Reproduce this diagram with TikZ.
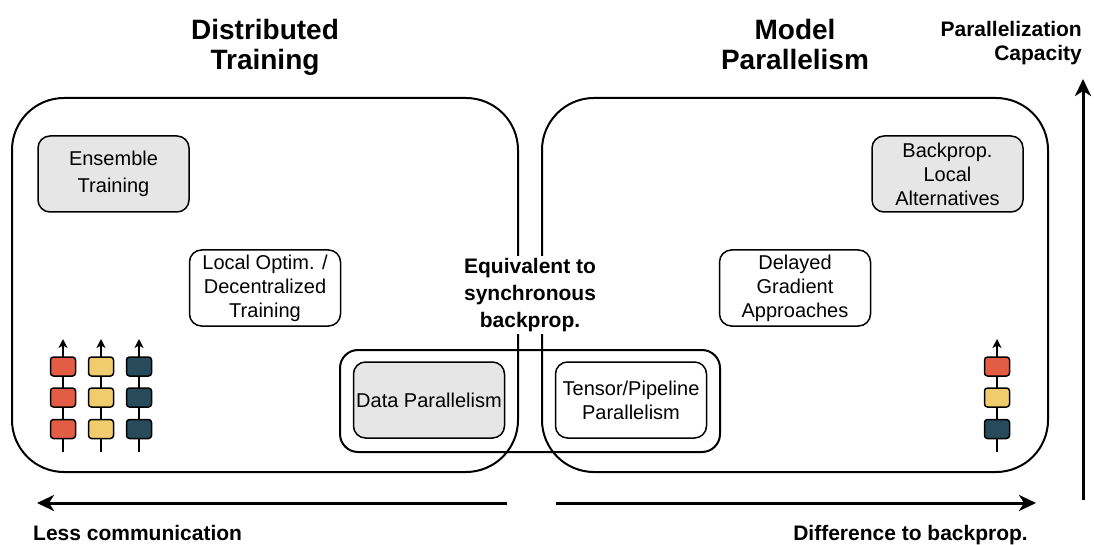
\documentclass[tikz,border=0pt]{standalone}
\usepackage{fontspec}
\setmainfont{Liberation Sans}
\usetikzlibrary{arrows.meta}
\definecolor{boxgray}{HTML}{E6E6E6}
\definecolor{sred}{HTML}{E35D45}
\definecolor{syellow}{HTML}{F1CC6E}
\definecolor{sblue}{HTML}{274B5B}
\begin{document}
\begin{tikzpicture}[x=1pt,y=-1pt,
  bigbox/.style={draw, line width=2pt, rounded corners=52pt, inner sep=0pt},
  midbox/.style={draw, line width=2pt, rounded corners=18pt, inner sep=0pt},
  cbox/.style={draw, line width=1.5pt, rounded corners=12pt, align=center,
    minimum width=151pt, minimum height=76pt, inner sep=2pt,
    font=\fontsize{20}{24}\selectfont},
  graybox/.style={cbox, fill=boxgray},
  whitebox/.style={cbox, fill=white},
  title/.style={font=\fontsize{28}{30}\selectfont\bfseries, align=center, inner sep=0pt, anchor=north},
  lbl/.style={font=\fontsize{21}{24}\selectfont\bfseries, inner sep=0pt},
  bigarrow/.style={line width=3pt, -{Stealth[length=17pt,width=16pt,inset=5pt]}},
  stackline/.style={line width=1.5pt, -{Stealth[length=9pt,width=9pt,inset=2.5pt]}},
  cell/.style={draw, line width=1.5pt, rounded corners=3pt, minimum width=25pt, minimum height=19pt, inner sep=0pt}
]
\useasboundingbox (0,0) rectangle (1094,545);

% big regions
\node[bigbox, minimum width=506pt, minimum height=374pt] (dt) at (265,285) {};
\node[bigbox, minimum width=506pt, minimum height=374pt] (mp) at (795,285) {};
\node[midbox, minimum width=380pt, minimum height=102pt] (eq) at (530,401) {};

% titles
\node[title] (tdt) at (265,19) {Distributed\\Training};
\node[title] (tmp) at (795,19) {Model\\Parallelism};

% method boxes
\node[graybox] (ens) at (113.5,174) {Ensemble\\[3pt]Training};
\node[whitebox] (loc) at (265,288) {Local Optim. /\\Decentralized\\Training};
\node[graybox] (dp) at (429,400) {Data Parallelism};
\node[whitebox] (tp) at (631,400) {Tensor/Pipeline\\Parallelism};
\node[whitebox] (dg) at (795,288) {Delayed\\Gradient\\Approaches};
\node[graybox] (bla) at (947.5,174) {Backprop.\\Local\\Alternatives};

% equivalence label
\node[fill=white, inner sep=2pt, align=center, font=\fontsize{21}{27}\selectfont\bfseries] (eqt) at (530,295)
  {Equivalent to\\synchronous\\backprop.};

% stacks (left)
\foreach \x/\n in {63/a,101/b,139/c}{
  \coordinate (bot\n) at (\x,452);
  \coordinate (top\n) at (\x,339);
  \draw[stackline] (bot\n) -- (top\n);
}
\foreach \y/\r in {366.5/1,397.5/2,429/3}{
  \node[cell, fill=sred] (a\r) at (63,\y) {};
  \node[cell, fill=syellow] (b\r) at (101,\y) {};
  \node[cell, fill=sblue] (c\r) at (139,\y) {};
}
% stack (right)
\coordinate (botr) at (997,452);
\coordinate (topr) at (997,339);
\draw[stackline] (botr) -- (topr);
\node[cell, fill=sred] (r1) at (997,366.5) {};
\node[cell, fill=syellow] (r2) at (997,397.5) {};
\node[cell, fill=sblue] (r3) at (997,429) {};

% axes
\coordinate (l1) at (507,503);
\coordinate (l2) at (37,503);
\draw[bigarrow] (l1) -- (l2);
\coordinate (r1a) at (556,503);
\coordinate (r2a) at (1036,503);
\draw[bigarrow] (r1a) -- (r2a);
\coordinate (v1) at (1083,500);
\coordinate (v2) at (1083,79);
\draw[bigarrow] (v1) -- (v2);

\node[lbl, anchor=base west] (lc) at (33,540) {Less communication};
\node[lbl, anchor=base east] (db) at (1028,540) {Difference to backprop.};
\node[lbl, anchor=north east, align=right] (pc) at (1082,21) {Parallelization\\Capacity};
\end{tikzpicture}
\end{document}
